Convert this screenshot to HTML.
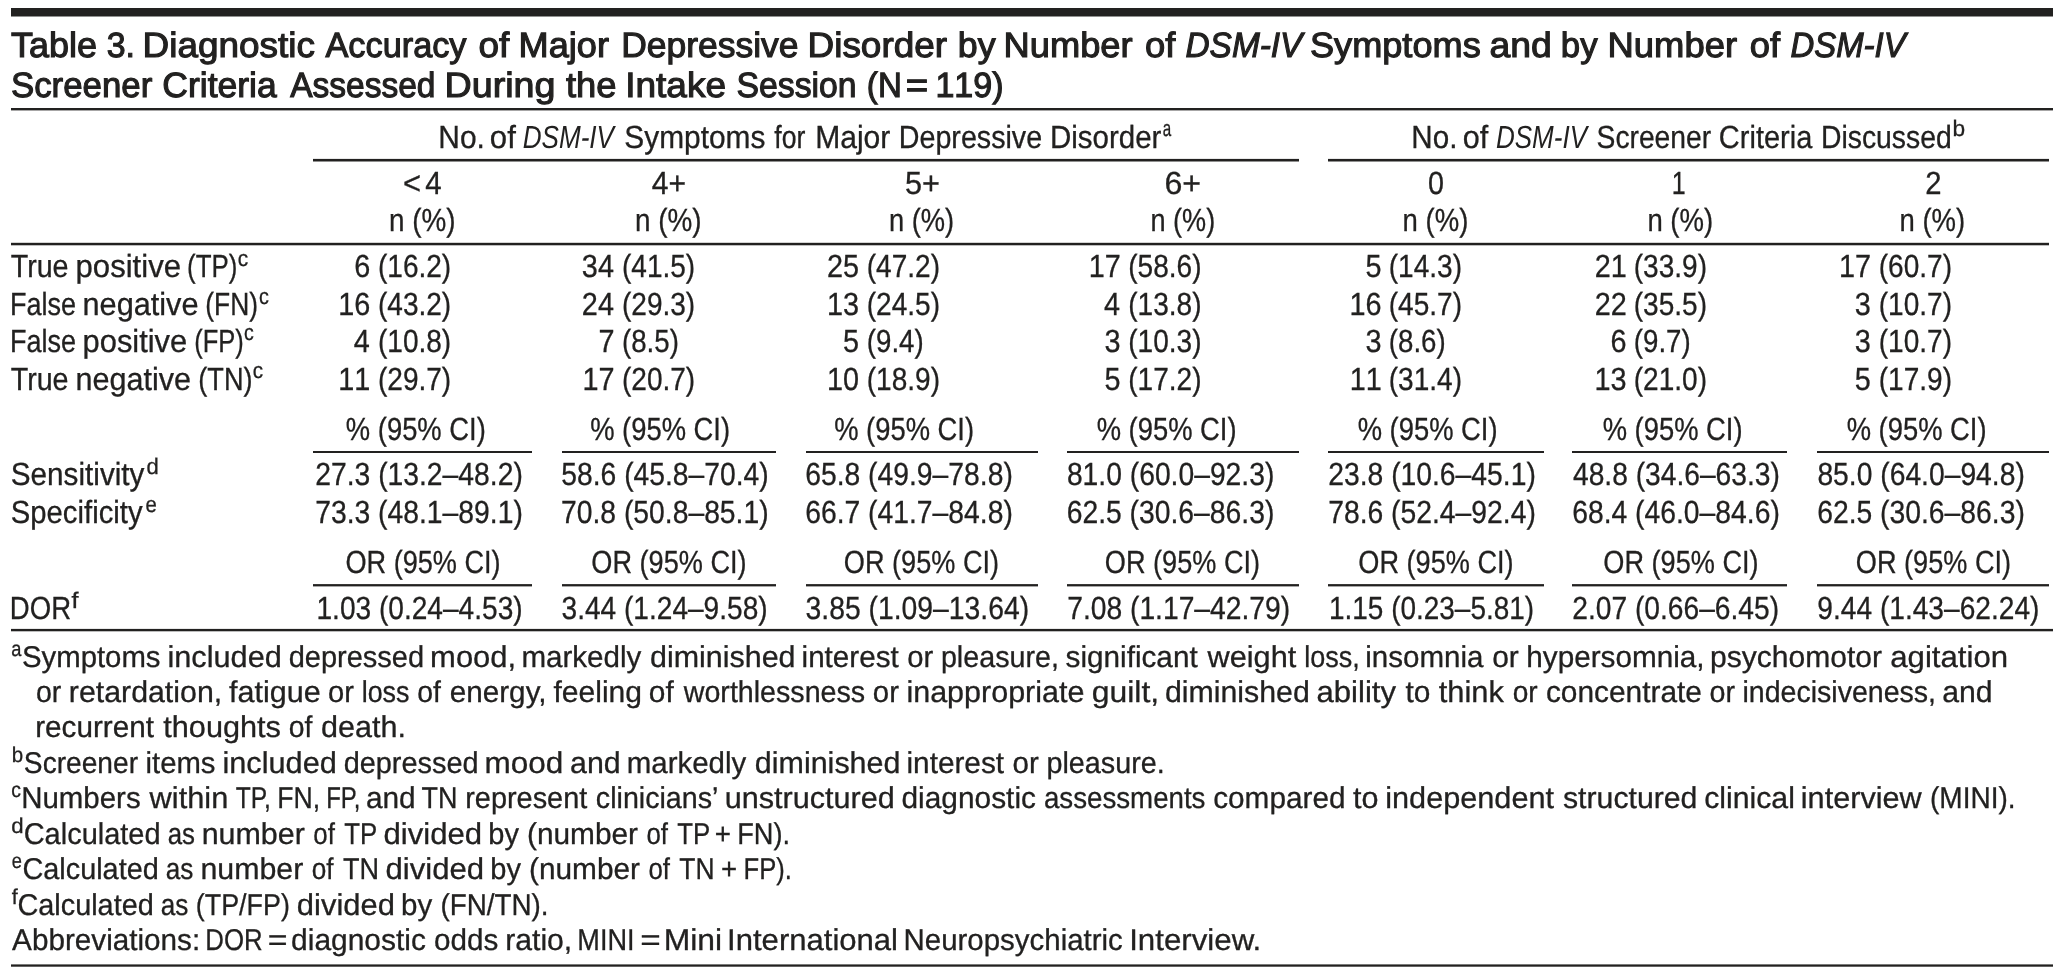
<!DOCTYPE html>
<html lang="en"><head><meta charset="utf-8"><title>Table 3. Diagnostic Accuracy of Major Depressive Disorder</title>
<style>
html,body{margin:0;padding:0;background:#fff}
body{width:2062px;height:978px;position:relative;overflow:hidden;font-family:"Liberation Sans",sans-serif;color:#222120;text-rendering:geometricPrecision}
.t{position:absolute;left:0;top:0;white-space:pre;line-height:50px;height:50px;transform-origin:0 0;font-kerning:normal}
.nk{font-kerning:none}.b{font-weight:bold}.i{font-style:italic}.kt{-webkit-text-stroke:1.1px #222120}.kf{-webkit-text-stroke:0.3px #222120}
.r{position:absolute;background:#222120}
#pg{position:absolute;left:0;top:0;width:2062px;height:978px;will-change:transform}
</style></head><body><div id="pg">
<div class="r" style="left:11px;top:8px;width:2042px;height:8px"></div>
<div class="r" style="left:11px;top:16px;width:2042px;height:1px;opacity:0.50"></div>
<div class="r" style="left:11px;top:108px;width:2042px;height:2px"></div>
<div class="r" style="left:11px;top:110px;width:2042px;height:1px;opacity:0.40"></div>
<div class="r" style="left:313px;top:159px;width:986px;height:2px"></div>
<div class="r" style="left:313px;top:158px;width:986px;height:1px;opacity:0.10"></div>
<div class="r" style="left:313px;top:161px;width:986px;height:1px;opacity:0.50"></div>
<div class="r" style="left:1328px;top:159px;width:721px;height:2px"></div>
<div class="r" style="left:1328px;top:158px;width:721px;height:1px;opacity:0.10"></div>
<div class="r" style="left:1328px;top:161px;width:721px;height:1px;opacity:0.50"></div>
<div class="r" style="left:11px;top:243px;width:2038px;height:2px"></div>
<div class="r" style="left:11px;top:242px;width:2038px;height:1px;opacity:0.20"></div>
<div class="r" style="left:11px;top:245px;width:2038px;height:1px;opacity:0.30"></div>
<div class="r" style="left:313px;top:451px;width:219px;height:2px"></div>
<div class="r" style="left:313px;top:585px;width:219px;height:1px"></div>
<div class="r" style="left:313px;top:584px;width:219px;height:1px;opacity:0.90"></div>
<div class="r" style="left:313px;top:586px;width:219px;height:1px;opacity:0.40"></div>
<div class="r" style="left:562px;top:451px;width:214px;height:2px"></div>
<div class="r" style="left:562px;top:585px;width:214px;height:1px"></div>
<div class="r" style="left:562px;top:584px;width:214px;height:1px;opacity:0.90"></div>
<div class="r" style="left:562px;top:586px;width:214px;height:1px;opacity:0.40"></div>
<div class="r" style="left:806px;top:451px;width:232px;height:2px"></div>
<div class="r" style="left:806px;top:585px;width:232px;height:1px"></div>
<div class="r" style="left:806px;top:584px;width:232px;height:1px;opacity:0.90"></div>
<div class="r" style="left:806px;top:586px;width:232px;height:1px;opacity:0.40"></div>
<div class="r" style="left:1067px;top:451px;width:232px;height:2px"></div>
<div class="r" style="left:1067px;top:585px;width:232px;height:1px"></div>
<div class="r" style="left:1067px;top:584px;width:232px;height:1px;opacity:0.90"></div>
<div class="r" style="left:1067px;top:586px;width:232px;height:1px;opacity:0.40"></div>
<div class="r" style="left:1328px;top:451px;width:216px;height:2px"></div>
<div class="r" style="left:1328px;top:585px;width:216px;height:1px"></div>
<div class="r" style="left:1328px;top:584px;width:216px;height:1px;opacity:0.90"></div>
<div class="r" style="left:1328px;top:586px;width:216px;height:1px;opacity:0.40"></div>
<div class="r" style="left:1572px;top:451px;width:215px;height:2px"></div>
<div class="r" style="left:1572px;top:585px;width:215px;height:1px"></div>
<div class="r" style="left:1572px;top:584px;width:215px;height:1px;opacity:0.90"></div>
<div class="r" style="left:1572px;top:586px;width:215px;height:1px;opacity:0.40"></div>
<div class="r" style="left:1817px;top:451px;width:232px;height:2px"></div>
<div class="r" style="left:1817px;top:585px;width:232px;height:1px"></div>
<div class="r" style="left:1817px;top:584px;width:232px;height:1px;opacity:0.90"></div>
<div class="r" style="left:1817px;top:586px;width:232px;height:1px;opacity:0.40"></div>
<div class="r" style="left:11px;top:629px;width:2042px;height:2px"></div>
<div class="r" style="left:11px;top:628px;width:2042px;height:1px;opacity:0.10"></div>
<div class="r" style="left:11px;top:631px;width:2042px;height:1px;opacity:0.30"></div>
<div class="r" style="left:11px;top:965px;width:2042px;height:1px"></div>
<div class="r" style="left:11px;top:964px;width:2042px;height:1px;opacity:0.60"></div>
<div class="r" style="left:11px;top:966px;width:2042px;height:1px;opacity:0.70"></div>
<span class="t kt" style="font-size:35px;transform:translate(10.96px,21.25px) scaleX(1.0287)">Table</span>
<span class="t kt nk" style="font-size:35px;transform:translate(106.74px,21.25px) scaleX(0.9700)">3.</span>
<span class="t kt" style="font-size:35px;transform:translate(142.55px,21.25px) scaleX(1.0546)">Diagnostic</span>
<span class="t kt" style="font-size:35px;transform:translate(325.47px,21.25px) scaleX(0.9800)">Accuracy</span>
<span class="t kt" style="font-size:35px;transform:translate(478.53px,21.25px) scaleX(1.0559)">of</span>
<span class="t kt" style="font-size:35px;transform:translate(518.60px,21.25px) scaleX(1.0331)">Major</span>
<span class="t kt" style="font-size:35px;transform:translate(621.25px,21.25px) scaleX(1.0125)">Depressive</span>
<span class="t kt" style="font-size:35px;transform:translate(807.55px,21.25px) scaleX(1.0545)">Disorder</span>
<span class="t kt" style="font-size:35px;transform:translate(957.76px,21.25px) scaleX(1.0211)">by</span>
<span class="t kt" style="font-size:35px;transform:translate(1003.60px,21.25px) scaleX(1.0358)">Number</span>
<span class="t kt" style="font-size:35px;transform:translate(1145.04px,21.25px) scaleX(1.0386)">of</span>
<span class="t i kt" style="font-size:35px;transform:translate(1185.50px,21.25px) scaleX(0.9542)">DSM-IV</span>
<span class="t kt" style="font-size:35px;transform:translate(1309.93px,21.25px) scaleX(1.0333)">Symptoms</span>
<span class="t kt" style="font-size:35px;transform:translate(1489.50px,21.25px) scaleX(1.0670)">and</span>
<span class="t kt" style="font-size:35px;transform:translate(1560.81px,21.25px) scaleX(0.9932)">by</span>
<span class="t kt" style="font-size:35px;transform:translate(1607.59px,21.25px) scaleX(1.0399)">Number</span>
<span class="t kt" style="font-size:35px;transform:translate(1749.74px,21.25px) scaleX(1.0386)">of</span>
<span class="t i kt" style="font-size:35px;transform:translate(1790.51px,21.25px) scaleX(0.9398)">DSM-IV</span>
<span class="t kt" style="font-size:35px;transform:translate(10.97px,61.25px) scaleX(0.9953)">Screener</span>
<span class="t kt" style="font-size:35px;transform:translate(162.36px,61.25px) scaleX(1.0132)">Criteria</span>
<span class="t kt" style="font-size:35px;transform:translate(290.16px,61.25px) scaleX(0.9573)">Assessed</span>
<span class="t kt" style="font-size:35px;transform:translate(444.50px,61.25px) scaleX(1.0769)">During</span>
<span class="t kt" style="font-size:35px;transform:translate(566.02px,61.25px) scaleX(1.0384)">the</span>
<span class="t kt" style="font-size:35px;transform:translate(625.16px,61.25px) scaleX(1.0581)">Intake</span>
<span class="t kt" style="font-size:35px;transform:translate(736.50px,61.25px) scaleX(0.9649)">Session</span>
<span class="t kt" style="font-size:35px;transform:translate(866.87px,61.25px) scaleX(0.9451)">(N</span>
<span class="t kt" style="font-size:35px;transform:translate(905.83px,61.25px) scaleX(1.0984)">=</span>
<span class="t kt nk" style="font-size:35px;transform:translate(935.44px,61.25px) scaleX(0.9725)">119)</span>
<span class="t kf" style="font-size:32px;transform:translate(438.28px,112.25px) scaleX(0.9360)">No.</span>
<span class="t kf" style="font-size:32px;transform:translate(489.84px,112.25px) scaleX(0.9731)">of</span>
<span class="t i" style="font-size:32px;transform:translate(522.70px,112.25px) scaleX(0.8150)">DSM-IV</span>
<span class="t kf" style="font-size:32px;transform:translate(624.28px,112.25px) scaleX(0.9339)">Symptoms</span>
<span class="t kf" style="font-size:32px;transform:translate(774.25px,112.25px) scaleX(0.8320)">for</span>
<span class="t kf" style="font-size:32px;transform:translate(815.17px,112.25px) scaleX(0.9396)">Major</span>
<span class="t kf" style="font-size:32px;transform:translate(898.78px,112.25px) scaleX(0.8956)">Depressive</span>
<span class="t kf" style="font-size:32px;transform:translate(1049.92px,112.25px) scaleX(0.9215)">Disorder</span>
<span class="t kf" style="font-size:22.5px;transform:translate(1162.66px,104.25px) scaleX(0.6745)">a</span>
<span class="t kf" style="font-size:32px;transform:translate(1411.31px,112.25px) scaleX(0.9248)">No.</span>
<span class="t kf" style="font-size:32px;transform:translate(1462.86px,112.25px) scaleX(0.9537)">of</span>
<span class="t i" style="font-size:32px;transform:translate(1496.00px,112.25px) scaleX(0.8123)">DSM-IV</span>
<span class="t kf" style="font-size:32px;transform:translate(1596.55px,112.25px) scaleX(0.8825)">Screener</span>
<span class="t kf" style="font-size:32px;transform:translate(1718.86px,112.25px) scaleX(0.9057)">Criteria</span>
<span class="t kf" style="font-size:32px;transform:translate(1821.01px,112.25px) scaleX(0.8853)">Discussed</span>
<span class="t kf" style="font-size:22.5px;transform:translate(1952.59px,104.25px) scaleX(1.0076)">b</span>
<span class="t kf nk" style="font-size:32px;transform:translate(402.92px,158.25px) scaleX(0.9655)">&lt;</span>
<span class="t kf nk" style="font-size:32px;transform:translate(425.26px,158.25px) scaleX(0.9193)">4</span>
<span class="t kf nk" style="font-size:32px;transform:translate(651.65px,158.25px) scaleX(0.9399)">4+</span>
<span class="t kf nk" style="font-size:32px;transform:translate(905.02px,158.25px) scaleX(0.9580)">5+</span>
<span class="t kf nk" style="font-size:32px;transform:translate(1164.42px,158.25px) scaleX(1.0035)">6+</span>
<span class="t kf nk" style="font-size:32px;transform:translate(1428.11px,158.25px) scaleX(0.8976)">0</span>
<span class="t kf nk" style="font-size:32px;transform:translate(1671.72px,158.25px) scaleX(0.7803)">1</span>
<span class="t kf nk" style="font-size:32px;transform:translate(1925.17px,158.25px) scaleX(0.9141)">2</span>
<span class="t kf" style="font-size:32px;transform:translate(388.98px,195.25px) scaleX(0.8714)">n (%)</span>
<span class="t kf" style="font-size:32px;transform:translate(634.98px,195.25px) scaleX(0.8714)">n (%)</span>
<span class="t kf" style="font-size:32px;transform:translate(888.91px,195.25px) scaleX(0.8535)">n (%)</span>
<span class="t kf" style="font-size:32px;transform:translate(1150.43px,195.25px) scaleX(0.8466)">n (%)</span>
<span class="t kf" style="font-size:32px;transform:translate(1402.60px,195.25px) scaleX(0.8604)">n (%)</span>
<span class="t kf" style="font-size:32px;transform:translate(1647.40px,195.25px) scaleX(0.8604)">n (%)</span>
<span class="t kf" style="font-size:32px;transform:translate(1899.50px,195.25px) scaleX(0.8590)">n (%)</span>
<span class="t kf" style="font-size:32px;transform:translate(10.69px,241.25px) scaleX(0.8953)">True</span>
<span class="t kf" style="font-size:32px;transform:translate(75.54px,241.25px) scaleX(0.9723)">positive</span>
<span class="t kf" style="font-size:32px;transform:translate(187.11px,241.25px) scaleX(0.8098)">(TP)</span>
<span class="t kf" style="font-size:22.5px;transform:translate(237.75px,234.25px) scaleX(0.9299)">c</span>
<span class="t kf" style="font-size:32px;transform:translate(9.91px,279.25px) scaleX(0.8443)">False</span>
<span class="t kf" style="font-size:32px;transform:translate(82.51px,279.25px) scaleX(0.9589)">negative</span>
<span class="t kf" style="font-size:32px;transform:translate(205.29px,279.25px) scaleX(0.8242)">(FN)</span>
<span class="t kf" style="font-size:22.5px;transform:translate(258.99px,272.25px) scaleX(0.8799)">c</span>
<span class="t kf" style="font-size:32px;transform:translate(9.91px,316.25px) scaleX(0.8443)">False</span>
<span class="t kf" style="font-size:32px;transform:translate(82.55px,316.25px) scaleX(0.9647)">positive</span>
<span class="t kf" style="font-size:32px;transform:translate(194.14px,316.25px) scaleX(0.7978)">(FP)</span>
<span class="t kf" style="font-size:22.5px;transform:translate(244.10px,308.25px) scaleX(0.8699)">c</span>
<span class="t kf" style="font-size:32px;transform:translate(10.69px,354.25px) scaleX(0.8953)">True</span>
<span class="t kf" style="font-size:32px;transform:translate(75.51px,354.25px) scaleX(0.9547)">negative</span>
<span class="t kf" style="font-size:32px;transform:translate(198.24px,354.25px) scaleX(0.8491)">(TN)</span>
<span class="t kf" style="font-size:22.5px;transform:translate(252.76px,346.25px) scaleX(0.9199)">c</span>
<span class="t kf nk" style="font-size:32px;transform:translate(354.21px,241.25px) scaleX(0.9000)">6</span>
<span class="t kf nk" style="font-size:32px;transform:translate(377.99px,241.25px) scaleX(0.8758)">(16.2)</span>
<span class="t kf nk" style="font-size:32px;transform:translate(581.87px,241.25px) scaleX(0.9000)">34</span>
<span class="t kf nk" style="font-size:32px;transform:translate(621.99px,241.25px) scaleX(0.8758)">(41.5)</span>
<span class="t kf nk" style="font-size:32px;transform:translate(827.04px,241.25px) scaleX(0.9000)">25</span>
<span class="t kf nk" style="font-size:32px;transform:translate(866.79px,241.25px) scaleX(0.8758)">(47.2)</span>
<span class="t kf nk" style="font-size:32px;transform:translate(1088.68px,241.25px) scaleX(0.9000)">17</span>
<span class="t kf nk" style="font-size:32px;transform:translate(1128.29px,241.25px) scaleX(0.8758)">(58.6)</span>
<span class="t kf nk" style="font-size:32px;transform:translate(1365.46px,241.25px) scaleX(0.9000)">5</span>
<span class="t kf nk" style="font-size:32px;transform:translate(1388.79px,241.25px) scaleX(0.8758)">(14.3)</span>
<span class="t kf nk" style="font-size:32px;transform:translate(1594.64px,241.25px) scaleX(0.9000)">21</span>
<span class="t kf nk" style="font-size:32px;transform:translate(1633.79px,241.25px) scaleX(0.8758)">(33.9)</span>
<span class="t kf nk" style="font-size:32px;transform:translate(1838.98px,241.25px) scaleX(0.9000)">17</span>
<span class="t kf nk" style="font-size:32px;transform:translate(1878.79px,241.25px) scaleX(0.8758)">(60.7)</span>
<span class="t kf nk" style="font-size:32px;transform:translate(338.20px,279.25px) scaleX(0.9000)">16</span>
<span class="t kf nk" style="font-size:32px;transform:translate(377.99px,279.25px) scaleX(0.8758)">(43.2)</span>
<span class="t kf nk" style="font-size:32px;transform:translate(581.87px,279.25px) scaleX(0.9000)">24</span>
<span class="t kf nk" style="font-size:32px;transform:translate(621.99px,279.25px) scaleX(0.8758)">(29.3)</span>
<span class="t kf nk" style="font-size:32px;transform:translate(827.10px,279.25px) scaleX(0.9000)">13</span>
<span class="t kf nk" style="font-size:32px;transform:translate(866.79px,279.25px) scaleX(0.8758)">(24.5)</span>
<span class="t kf nk" style="font-size:32px;transform:translate(1104.09px,279.25px) scaleX(0.9000)">4</span>
<span class="t kf nk" style="font-size:32px;transform:translate(1128.29px,279.25px) scaleX(0.8758)">(13.8)</span>
<span class="t kf nk" style="font-size:32px;transform:translate(1349.50px,279.25px) scaleX(0.9000)">16</span>
<span class="t kf nk" style="font-size:32px;transform:translate(1388.79px,279.25px) scaleX(0.8758)">(45.7)</span>
<span class="t kf nk" style="font-size:32px;transform:translate(1594.68px,279.25px) scaleX(0.9000)">22</span>
<span class="t kf nk" style="font-size:32px;transform:translate(1633.79px,279.25px) scaleX(0.8758)">(35.5)</span>
<span class="t kf nk" style="font-size:32px;transform:translate(1854.81px,279.25px) scaleX(0.9000)">3</span>
<span class="t kf nk" style="font-size:32px;transform:translate(1878.79px,279.25px) scaleX(0.8758)">(10.7)</span>
<span class="t kf nk" style="font-size:32px;transform:translate(353.79px,316.25px) scaleX(0.9000)">4</span>
<span class="t kf nk" style="font-size:32px;transform:translate(377.99px,316.25px) scaleX(0.8758)">(10.8)</span>
<span class="t kf nk" style="font-size:32px;transform:translate(598.50px,316.25px) scaleX(0.9000)">7</span>
<span class="t kf nk" style="font-size:32px;transform:translate(622.01px,316.25px) scaleX(0.8643)">(8.5)</span>
<span class="t kf nk" style="font-size:32px;transform:translate(843.06px,316.25px) scaleX(0.9000)">5</span>
<span class="t kf nk" style="font-size:32px;transform:translate(866.81px,316.25px) scaleX(0.8643)">(9.4)</span>
<span class="t kf nk" style="font-size:32px;transform:translate(1104.51px,316.25px) scaleX(0.9000)">3</span>
<span class="t kf nk" style="font-size:32px;transform:translate(1128.29px,316.25px) scaleX(0.8758)">(10.3)</span>
<span class="t kf nk" style="font-size:32px;transform:translate(1365.51px,316.25px) scaleX(0.9000)">3</span>
<span class="t kf nk" style="font-size:32px;transform:translate(1388.81px,316.25px) scaleX(0.8643)">(8.6)</span>
<span class="t kf nk" style="font-size:32px;transform:translate(1610.51px,316.25px) scaleX(0.9000)">6</span>
<span class="t kf nk" style="font-size:32px;transform:translate(1633.81px,316.25px) scaleX(0.8643)">(9.7)</span>
<span class="t kf nk" style="font-size:32px;transform:translate(1854.81px,316.25px) scaleX(0.9000)">3</span>
<span class="t kf nk" style="font-size:32px;transform:translate(1878.79px,316.25px) scaleX(0.8758)">(10.7)</span>
<span class="t kf nk" style="font-size:32px;transform:translate(338.34px,354.25px) scaleX(0.9000)">11</span>
<span class="t kf nk" style="font-size:32px;transform:translate(377.99px,354.25px) scaleX(0.8758)">(29.7)</span>
<span class="t kf nk" style="font-size:32px;transform:translate(582.48px,354.25px) scaleX(0.9000)">17</span>
<span class="t kf nk" style="font-size:32px;transform:translate(621.99px,354.25px) scaleX(0.8758)">(20.7)</span>
<span class="t kf nk" style="font-size:32px;transform:translate(826.96px,354.25px) scaleX(0.9000)">10</span>
<span class="t kf nk" style="font-size:32px;transform:translate(866.79px,354.25px) scaleX(0.8758)">(18.9)</span>
<span class="t kf nk" style="font-size:32px;transform:translate(1104.46px,354.25px) scaleX(0.9000)">5</span>
<span class="t kf nk" style="font-size:32px;transform:translate(1128.29px,354.25px) scaleX(0.8758)">(17.2)</span>
<span class="t kf nk" style="font-size:32px;transform:translate(1349.64px,354.25px) scaleX(0.9000)">11</span>
<span class="t kf nk" style="font-size:32px;transform:translate(1388.79px,354.25px) scaleX(0.8758)">(31.4)</span>
<span class="t kf nk" style="font-size:32px;transform:translate(1594.50px,354.25px) scaleX(0.9000)">13</span>
<span class="t kf nk" style="font-size:32px;transform:translate(1633.79px,354.25px) scaleX(0.8758)">(21.0)</span>
<span class="t kf nk" style="font-size:32px;transform:translate(1854.76px,354.25px) scaleX(0.9000)">5</span>
<span class="t kf nk" style="font-size:32px;transform:translate(1878.79px,354.25px) scaleX(0.8758)">(17.9)</span>
<span class="t kf" style="font-size:32px;transform:translate(345.85px,404.25px) scaleX(0.8553)">% (95% CI)</span>
<span class="t kf" style="font-size:32px;transform:translate(590.15px,404.25px) scaleX(0.8553)">% (95% CI)</span>
<span class="t kf" style="font-size:32px;transform:translate(834.15px,404.25px) scaleX(0.8553)">% (95% CI)</span>
<span class="t kf" style="font-size:32px;transform:translate(1096.65px,404.25px) scaleX(0.8553)">% (95% CI)</span>
<span class="t kf" style="font-size:32px;transform:translate(1357.65px,404.25px) scaleX(0.8553)">% (95% CI)</span>
<span class="t kf" style="font-size:32px;transform:translate(1602.65px,404.25px) scaleX(0.8553)">% (95% CI)</span>
<span class="t kf" style="font-size:32px;transform:translate(1846.65px,404.25px) scaleX(0.8553)">% (95% CI)</span>
<span class="t kf" style="font-size:32px;transform:translate(345.44px,537.25px) scaleX(0.8475)">OR (95% CI)</span>
<span class="t kf" style="font-size:32px;transform:translate(591.34px,537.25px) scaleX(0.8475)">OR (95% CI)</span>
<span class="t kf" style="font-size:32px;transform:translate(843.84px,537.25px) scaleX(0.8475)">OR (95% CI)</span>
<span class="t kf" style="font-size:32px;transform:translate(1104.84px,537.25px) scaleX(0.8475)">OR (95% CI)</span>
<span class="t kf" style="font-size:32px;transform:translate(1358.34px,537.25px) scaleX(0.8475)">OR (95% CI)</span>
<span class="t kf" style="font-size:32px;transform:translate(1603.34px,537.25px) scaleX(0.8475)">OR (95% CI)</span>
<span class="t kf" style="font-size:32px;transform:translate(1855.84px,537.25px) scaleX(0.8475)">OR (95% CI)</span>
<span class="t kf nk" style="font-size:32px;transform:translate(315.21px,449.25px) scaleX(0.8840)">27.3 (13.2–48.2)</span>
<span class="t kf nk" style="font-size:32px;transform:translate(315.18px,487.25px) scaleX(0.8842)">73.3 (48.1–89.1)</span>
<span class="t kf nk" style="font-size:32px;transform:translate(316.49px,583.25px) scaleX(0.8777)">1.03 (0.24–4.53)</span>
<span class="t kf nk" style="font-size:32px;transform:translate(561.30px,449.25px) scaleX(0.8828)">58.6 (45.8–70.4)</span>
<span class="t kf nk" style="font-size:32px;transform:translate(560.98px,487.25px) scaleX(0.8842)">70.8 (50.8–85.1)</span>
<span class="t kf nk" style="font-size:32px;transform:translate(561.56px,583.25px) scaleX(0.8774)">3.44 (1.24–9.58)</span>
<span class="t kf nk" style="font-size:32px;transform:translate(805.20px,449.25px) scaleX(0.8841)">65.8 (49.9–78.8)</span>
<span class="t kf nk" style="font-size:32px;transform:translate(805.20px,487.25px) scaleX(0.8841)">66.7 (41.7–84.8)</span>
<span class="t kf nk" style="font-size:32px;transform:translate(805.55px,583.25px) scaleX(0.8849)">3.85 (1.09–13.64)</span>
<span class="t kf nk" style="font-size:32px;transform:translate(1066.90px,449.25px) scaleX(0.8832)">81.0 (60.0–92.3)</span>
<span class="t kf nk" style="font-size:32px;transform:translate(1066.70px,487.25px) scaleX(0.8841)">62.5 (30.6–86.3)</span>
<span class="t kf nk" style="font-size:32px;transform:translate(1067.18px,583.25px) scaleX(0.8824)">7.08 (1.17–42.79)</span>
<span class="t kf nk" style="font-size:32px;transform:translate(1328.21px,449.25px) scaleX(0.8840)">23.8 (10.6–45.1)</span>
<span class="t kf nk" style="font-size:32px;transform:translate(1328.18px,487.25px) scaleX(0.8842)">78.6 (52.4–92.4)</span>
<span class="t kf nk" style="font-size:32px;transform:translate(1329.00px,583.25px) scaleX(0.8733)">1.15 (0.23–5.81)</span>
<span class="t kf nk" style="font-size:32px;transform:translate(1572.99px,449.25px) scaleX(0.8807)">48.8 (34.6–63.3)</span>
<span class="t kf nk" style="font-size:32px;transform:translate(1572.20px,487.25px) scaleX(0.8841)">68.4 (46.0–84.6)</span>
<span class="t kf nk" style="font-size:32px;transform:translate(1572.21px,583.25px) scaleX(0.8810)">2.07 (0.66–6.45)</span>
<span class="t kf nk" style="font-size:32px;transform:translate(1817.40px,449.25px) scaleX(0.8832)">85.0 (64.0–94.8)</span>
<span class="t kf nk" style="font-size:32px;transform:translate(1817.20px,487.25px) scaleX(0.8841)">62.5 (30.6–86.3)</span>
<span class="t kf nk" style="font-size:32px;transform:translate(1817.31px,583.25px) scaleX(0.8791)">9.44 (1.43–62.24)</span>
<span class="t kf" style="font-size:32px;transform:translate(10.79px,449.25px) scaleX(0.9277)">Sensitivity</span>
<span class="t kf" style="font-size:22.5px;transform:translate(146.42px,442.25px) scaleX(0.9788)">d</span>
<span class="t kf" style="font-size:32px;transform:translate(10.81px,487.25px) scaleX(0.9144)">Specificity</span>
<span class="t kf" style="font-size:22.5px;transform:translate(145.57px,480.25px) scaleX(0.9024)">e</span>
<span class="t kf" style="font-size:32px;transform:translate(9.87px,583.25px) scaleX(0.8603)">DOR</span>
<span class="t kf" style="font-size:22.5px;transform:translate(71.39px,576.25px) scaleX(1.1200)">f</span>
<span class="t kf" style="font-size:21.5px;transform:translate(11.13px,624.25px) scaleX(0.8500)">a</span>
<span class="t kf" style="font-size:30px;transform:translate(22.02px,633.25px) scaleX(0.9774)">Symptoms</span>
<span class="t kf" style="font-size:30px;transform:translate(167.40px,633.25px) scaleX(1.0238)">included</span>
<span class="t kf" style="font-size:30px;transform:translate(288.63px,633.25px) scaleX(0.9664)">depressed</span>
<span class="t kf" style="font-size:30px;transform:translate(430.10px,633.25px) scaleX(1.0316)">mood,</span>
<span class="t kf" style="font-size:30px;transform:translate(521.38px,633.25px) scaleX(0.9854)">markedly</span>
<span class="t kf" style="font-size:30px;transform:translate(649.97px,633.25px) scaleX(1.0147)">diminished</span>
<span class="t kf" style="font-size:30px;transform:translate(801.57px,633.25px) scaleX(0.9869)">interest</span>
<span class="t kf" style="font-size:30px;transform:translate(907.22px,633.25px) scaleX(0.9750)">or</span>
<span class="t kf" style="font-size:30px;transform:translate(940.89px,633.25px) scaleX(0.9564)">pleasure,</span>
<span class="t kf" style="font-size:30px;transform:translate(1065.52px,633.25px) scaleX(0.9906)">significant</span>
<span class="t kf" style="font-size:30px;transform:translate(1207.50px,633.25px) scaleX(1.0237)">weight</span>
<span class="t kf" style="font-size:30px;transform:translate(1304.22px,633.25px) scaleX(0.8992)">loss,</span>
<span class="t kf" style="font-size:30px;transform:translate(1365.27px,633.25px) scaleX(0.9843)">insomnia</span>
<span class="t kf" style="font-size:30px;transform:translate(1492.19px,633.25px) scaleX(0.9988)">or</span>
<span class="t kf" style="font-size:30px;transform:translate(1526.29px,633.25px) scaleX(0.9902)">hypersomnia,</span>
<span class="t kf" style="font-size:30px;transform:translate(1710.01px,633.25px) scaleX(1.0017)">psychomotor</span>
<span class="t kf" style="font-size:30px;transform:translate(1890.23px,633.25px) scaleX(1.0388)">agitation</span>
<span class="t kf" style="font-size:30px;transform:translate(35.94px,668.25px) scaleX(0.9513)">or</span>
<span class="t kf" style="font-size:30px;transform:translate(68.84px,668.25px) scaleX(1.0103)">retardation,</span>
<span class="t kf" style="font-size:30px;transform:translate(229.02px,668.25px) scaleX(1.0178)">fatigue</span>
<span class="t kf" style="font-size:30px;transform:translate(328.12px,668.25px) scaleX(0.9711)">or</span>
<span class="t kf" style="font-size:30px;transform:translate(361.73px,668.25px) scaleX(0.8941)">loss</span>
<span class="t kf" style="font-size:30px;transform:translate(417.25px,668.25px) scaleX(0.9455)">of</span>
<span class="t kf" style="font-size:30px;transform:translate(449.69px,668.25px) scaleX(0.9897)">energy,</span>
<span class="t kf" style="font-size:30px;transform:translate(553.42px,668.25px) scaleX(1.0018)">feeling</span>
<span class="t kf" style="font-size:30px;transform:translate(648.80px,668.25px) scaleX(0.9952)">of</span>
<span class="t kf" style="font-size:30px;transform:translate(683.78px,668.25px) scaleX(0.9538)">worthlessness</span>
<span class="t kf" style="font-size:30px;transform:translate(872.81px,668.25px) scaleX(0.9790)">or</span>
<span class="t kf" style="font-size:30px;transform:translate(906.41px,668.25px) scaleX(1.0164)">inappropriate</span>
<span class="t kf" style="font-size:30px;transform:translate(1091.72px,668.25px) scaleX(1.0633)">guilt,</span>
<span class="t kf" style="font-size:30px;transform:translate(1164.98px,668.25px) scaleX(1.0098)">diminished</span>
<span class="t kf" style="font-size:30px;transform:translate(1316.54px,668.25px) scaleX(1.0361)">ability</span>
<span class="t kf" style="font-size:30px;transform:translate(1405.50px,668.25px) scaleX(0.9950)">to</span>
<span class="t kf" style="font-size:30px;transform:translate(1438.69px,668.25px) scaleX(1.0274)">think</span>
<span class="t kf" style="font-size:30px;transform:translate(1512.66px,668.25px) scaleX(0.9354)">or</span>
<span class="t kf" style="font-size:30px;transform:translate(1545.88px,668.25px) scaleX(0.9956)">concentrate</span>
<span class="t kf" style="font-size:30px;transform:translate(1709.44px,668.25px) scaleX(0.9552)">or</span>
<span class="t kf" style="font-size:30px;transform:translate(1742.53px,668.25px) scaleX(0.9511)">indecisiveness,</span>
<span class="t kf" style="font-size:30px;transform:translate(1942.17px,668.25px) scaleX(1.0073)">and</span>
<span class="t kf" style="font-size:30px;transform:translate(35.18px,703.25px) scaleX(0.9895)">recurrent</span>
<span class="t kf" style="font-size:30px;transform:translate(163.29px,703.25px) scaleX(1.0223)">thoughts</span>
<span class="t kf" style="font-size:30px;transform:translate(288.65px,703.25px) scaleX(0.9455)">of</span>
<span class="t kf" style="font-size:30px;transform:translate(321.07px,703.25px) scaleX(1.0173)">death.</span>
<span class="t kf" style="font-size:21.5px;transform:translate(11.82px,730.25px) scaleX(0.9519)">b</span>
<span class="t kf" style="font-size:30px;transform:translate(23.86px,739.25px) scaleX(0.9378)">Screener</span>
<span class="t kf" style="font-size:30px;transform:translate(145.59px,739.25px) scaleX(0.9754)">items</span>
<span class="t kf" style="font-size:30px;transform:translate(222.40px,739.25px) scaleX(1.0238)">included</span>
<span class="t kf" style="font-size:30px;transform:translate(343.63px,739.25px) scaleX(0.9627)">depressed</span>
<span class="t kf" style="font-size:30px;transform:translate(484.57px,739.25px) scaleX(1.0501)">mood</span>
<span class="t kf" style="font-size:30px;transform:translate(570.06px,739.25px) scaleX(1.0116)">and</span>
<span class="t kf" style="font-size:30px;transform:translate(626.79px,739.25px) scaleX(0.9812)">markedly</span>
<span class="t kf" style="font-size:30px;transform:translate(754.87px,739.25px) scaleX(1.0147)">diminished</span>
<span class="t kf" style="font-size:30px;transform:translate(906.46px,739.25px) scaleX(0.9921)">interest</span>
<span class="t kf" style="font-size:30px;transform:translate(1012.61px,739.25px) scaleX(0.9830)">or</span>
<span class="t kf" style="font-size:30px;transform:translate(1046.49px,739.25px) scaleX(0.9584)">pleasure.</span>
<span class="t kf" style="font-size:21.5px;transform:translate(11.31px,765.25px) scaleX(0.8987)">c</span>
<span class="t kf" style="font-size:30px;transform:translate(21.13px,774.25px) scaleX(0.9818)">Numbers</span>
<span class="t kf" style="font-size:30px;transform:translate(149.60px,774.25px) scaleX(1.0253)">within</span>
<span class="t kf" style="font-size:30px;transform:translate(235.67px,774.25px) scaleX(0.8203)">TP,</span>
<span class="t kf" style="font-size:30px;transform:translate(277.25px,774.25px) scaleX(0.8879)">FN,</span>
<span class="t kf" style="font-size:30px;transform:translate(326.15px,774.25px) scaleX(0.8000)">FP,</span>
<span class="t kf" style="font-size:30px;transform:translate(365.88px,774.25px) scaleX(0.9946)">and</span>
<span class="t kf" style="font-size:30px;transform:translate(421.43px,774.25px) scaleX(0.8983)">TN</span>
<span class="t kf" style="font-size:30px;transform:translate(465.23px,774.25px) scaleX(0.9628)">represent</span>
<span class="t kf" style="font-size:30px;transform:translate(595.83px,774.25px) scaleX(0.9550)">clinicians’</span>
<span class="t kf" style="font-size:30px;transform:translate(724.67px,774.25px) scaleX(1.0197)">unstructured</span>
<span class="t kf" style="font-size:30px;transform:translate(901.50px,774.25px) scaleX(0.9952)">diagnostic</span>
<span class="t kf" style="font-size:30px;transform:translate(1043.96px,774.25px) scaleX(0.9224)">assessments</span>
<span class="t kf" style="font-size:30px;transform:translate(1213.19px,774.25px) scaleX(0.9916)">compared</span>
<span class="t kf" style="font-size:30px;transform:translate(1353.09px,774.25px) scaleX(1.0162)">to</span>
<span class="t kf" style="font-size:30px;transform:translate(1385.20px,774.25px) scaleX(1.0224)">independent</span>
<span class="t kf" style="font-size:30px;transform:translate(1563.01px,774.25px) scaleX(1.0075)">structured</span>
<span class="t kf" style="font-size:30px;transform:translate(1704.17px,774.25px) scaleX(1.0075)">clinical</span>
<span class="t kf" style="font-size:30px;transform:translate(1800.80px,774.25px) scaleX(1.0211)">interview</span>
<span class="t kf" style="font-size:30px;transform:translate(1930.00px,774.25px) scaleX(0.9343)">(MINI).</span>
<span class="t kf" style="font-size:21.5px;transform:translate(11.22px,801.25px) scaleX(1.0320)">d</span>
<span class="t kf" style="font-size:30px;transform:translate(23.67px,810.25px) scaleX(0.9660)">Calculated</span>
<span class="t kf" style="font-size:30px;transform:translate(167.63px,810.25px) scaleX(0.8600)">as</span>
<span class="t kf" style="font-size:30px;transform:translate(201.63px,810.25px) scaleX(1.0148)">number</span>
<span class="t kf" style="font-size:30px;transform:translate(313.24px,810.25px) scaleX(0.8625)">of</span>
<span class="t kf" style="font-size:30px;transform:translate(344.25px,810.25px) scaleX(0.8600)">TP</span>
<span class="t kf" style="font-size:30px;transform:translate(383.45px,810.25px) scaleX(1.0381)">divided</span>
<span class="t kf" style="font-size:30px;transform:translate(488.28px,810.25px) scaleX(0.9668)">by</span>
<span class="t kf" style="font-size:30px;transform:translate(527.00px,810.25px) scaleX(0.9940)">(number</span>
<span class="t kf" style="font-size:30px;transform:translate(646.45px,810.25px) scaleX(0.8600)">of</span>
<span class="t kf" style="font-size:30px;transform:translate(677.35px,810.25px) scaleX(0.8600)">TP</span>
<span class="t kf nk" style="font-size:30px;transform:translate(714.78px,810.25px) scaleX(0.9270)">+</span>
<span class="t kf" style="font-size:30px;transform:translate(737.21px,810.25px) scaleX(0.9059)">FN).</span>
<span class="t kf" style="font-size:21.5px;transform:translate(11.78px,836.25px) scaleX(0.8500)">e</span>
<span class="t kf" style="font-size:30px;transform:translate(22.38px,845.25px) scaleX(0.9624)">Calculated</span>
<span class="t kf" style="font-size:30px;transform:translate(165.82px,845.25px) scaleX(0.8708)">as</span>
<span class="t kf" style="font-size:30px;transform:translate(200.44px,845.25px) scaleX(1.0118)">number</span>
<span class="t kf" style="font-size:30px;transform:translate(311.73px,845.25px) scaleX(0.8708)">of</span>
<span class="t kf" style="font-size:30px;transform:translate(342.93px,845.25px) scaleX(0.9010)">TN</span>
<span class="t kf" style="font-size:30px;transform:translate(385.45px,845.25px) scaleX(1.0381)">divided</span>
<span class="t kf" style="font-size:30px;transform:translate(490.28px,845.25px) scaleX(0.9668)">by</span>
<span class="t kf" style="font-size:30px;transform:translate(529.00px,845.25px) scaleX(0.9940)">(number</span>
<span class="t kf" style="font-size:30px;transform:translate(648.45px,845.25px) scaleX(0.8600)">of</span>
<span class="t kf" style="font-size:30px;transform:translate(679.34px,845.25px) scaleX(0.8822)">TN</span>
<span class="t kf nk" style="font-size:30px;transform:translate(721.09px,845.25px) scaleX(0.9203)">+</span>
<span class="t kf" style="font-size:30px;transform:translate(743.53px,845.25px) scaleX(0.8537)">FP).</span>
<span class="t kf" style="font-size:21.5px;transform:translate(11.85px,872.25px) scaleX(0.9981)">f</span>
<span class="t kf" style="font-size:30px;transform:translate(17.38px,881.25px) scaleX(0.9624)">Calculated</span>
<span class="t kf" style="font-size:30px;transform:translate(160.82px,881.25px) scaleX(0.8708)">as</span>
<span class="t kf" style="font-size:30px;transform:translate(195.77px,881.25px) scaleX(0.8959)">(TP/FP)</span>
<span class="t kf" style="font-size:30px;transform:translate(296.86px,881.25px) scaleX(1.0316)">divided</span>
<span class="t kf" style="font-size:30px;transform:translate(401.05px,881.25px) scaleX(0.9835)">by</span>
<span class="t kf" style="font-size:30px;transform:translate(440.41px,881.25px) scaleX(0.9275)">(FN/TN).</span>
<span class="t kf" style="font-size:30px;transform:translate(12.09px,916.25px) scaleX(0.9893)">Abbreviations:</span>
<span class="t kf" style="font-size:30px;transform:translate(205.31px,916.25px) scaleX(0.8600)">DOR</span>
<span class="t kf" style="font-size:30px;transform:translate(267.72px,916.25px) scaleX(1.1285)">=</span>
<span class="t kf" style="font-size:30px;transform:translate(291.09px,916.25px) scaleX(0.9982)">diagnostic</span>
<span class="t kf" style="font-size:30px;transform:translate(433.90px,916.25px) scaleX(0.9886)">odds</span>
<span class="t kf" style="font-size:30px;transform:translate(505.15px,916.25px) scaleX(1.0062)">ratio,</span>
<span class="t kf" style="font-size:30px;transform:translate(577.31px,916.25px) scaleX(0.9041)">MINI</span>
<span class="t kf" style="font-size:30px;transform:translate(640.36px,916.25px) scaleX(1.1688)">=</span>
<span class="t kf" style="font-size:30px;transform:translate(663.65px,916.25px) scaleX(1.0623)">Mini</span>
<span class="t kf" style="font-size:30px;transform:translate(727.09px,916.25px) scaleX(1.0352)">International</span>
<span class="t kf" style="font-size:30px;transform:translate(903.53px,916.25px) scaleX(0.9815)">Neuropsychiatric</span>
<span class="t kf" style="font-size:30px;transform:translate(1129.17px,916.25px) scaleX(1.0417)">Interview.</span>
</div></body></html>
